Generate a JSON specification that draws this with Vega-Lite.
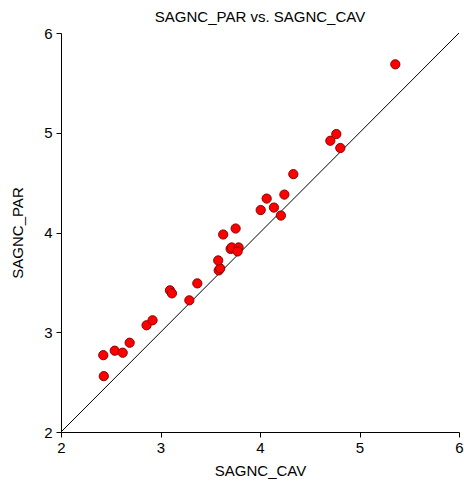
{
  "$schema": "https://vega.github.io/schema/vega-lite/v6.json",
  "autosize": {"type": "none"},
  "width": 398,
  "height": 399,
  "padding": {"left": 61, "top": 33, "right": 5, "bottom": 53},
  "background": "white",
  "config": {
    "view": {"stroke": null},
    "font": "Liberation Sans",
    "axis": {"grid": false, "domainColor": "black", "tickColor": "black", "labelColor": "black", "titleColor": "black", "labelFont": "Liberation Sans", "titleFont": "Liberation Sans", "labelFontSize": 15, "titleFontSize": 15, "titleFontWeight": "normal", "tickSize": 5, "domainWidth": 1, "tickWidth": 1, "labelFlush": false, "format": "d"}
  },
  "title": {"text": "SAGNC_PAR vs. SAGNC_CAV", "font": "Liberation Sans", "fontSize": 15, "fontWeight": "normal", "color": "black", "anchor": "middle", "offset": 1},
  "datasets": {
    "pts": [
      {"cav": 2.425, "par": 2.77},
      {"cav": 2.43, "par": 2.56},
      {"cav": 2.54, "par": 2.815},
      {"cav": 2.62, "par": 2.795},
      {"cav": 2.69, "par": 2.895},
      {"cav": 2.86, "par": 3.07},
      {"cav": 2.92, "par": 3.12},
      {"cav": 3.095, "par": 3.42},
      {"cav": 3.115, "par": 3.39},
      {"cav": 3.29, "par": 3.32},
      {"cav": 3.37, "par": 3.49},
      {"cav": 3.585, "par": 3.62},
      {"cav": 3.60, "par": 3.64},
      {"cav": 3.58, "par": 3.72},
      {"cav": 3.63, "par": 3.98},
      {"cav": 3.755, "par": 4.04},
      {"cav": 3.705, "par": 3.835},
      {"cav": 3.715, "par": 3.85},
      {"cav": 3.785, "par": 3.85},
      {"cav": 3.775, "par": 3.81},
      {"cav": 4.007, "par": 4.225},
      {"cav": 4.067, "par": 4.34},
      {"cav": 4.14, "par": 4.25},
      {"cav": 4.21, "par": 4.17},
      {"cav": 4.245, "par": 4.38},
      {"cav": 4.335, "par": 4.585},
      {"cav": 4.707, "par": 4.92},
      {"cav": 4.767, "par": 4.987},
      {"cav": 4.807, "par": 4.847},
      {"cav": 5.36, "par": 5.686}
    ],
    "diag": [
      {"cav": 2, "par": 2},
      {"cav": 6, "par": 6}
    ]
  },
  "layer": [
    {
      "data": {"name": "diag"},
      "mark": {"type": "line", "color": "black", "strokeWidth": 1, "clip": true},
      "encoding": {
        "x": {"field": "cav", "type": "quantitative", "scale": {"domain": [2, 6], "nice": false, "zero": false}, "axis": {"title": "SAGNC_CAV", "values": [2, 3, 4, 5, 6], "labelPadding": 3, "titlePadding": 8}},
        "y": {"field": "par", "type": "quantitative", "scale": {"domain": [2, 6], "nice": false, "zero": false}, "axis": {"title": "SAGNC_PAR", "values": [2, 3, 4, 5, 6], "labelPadding": 4, "titlePadding": 18}}
      }
    },
    {
      "data": {"name": "pts"},
      "mark": {"type": "point", "shape": "circle", "filled": true, "fill": "#ff0000", "stroke": "#8b0000", "strokeWidth": 1, "opacity": 1, "size": 85},
      "encoding": {
        "x": {"field": "cav", "type": "quantitative"},
        "y": {"field": "par", "type": "quantitative"}
      }
    }
  ]
}
